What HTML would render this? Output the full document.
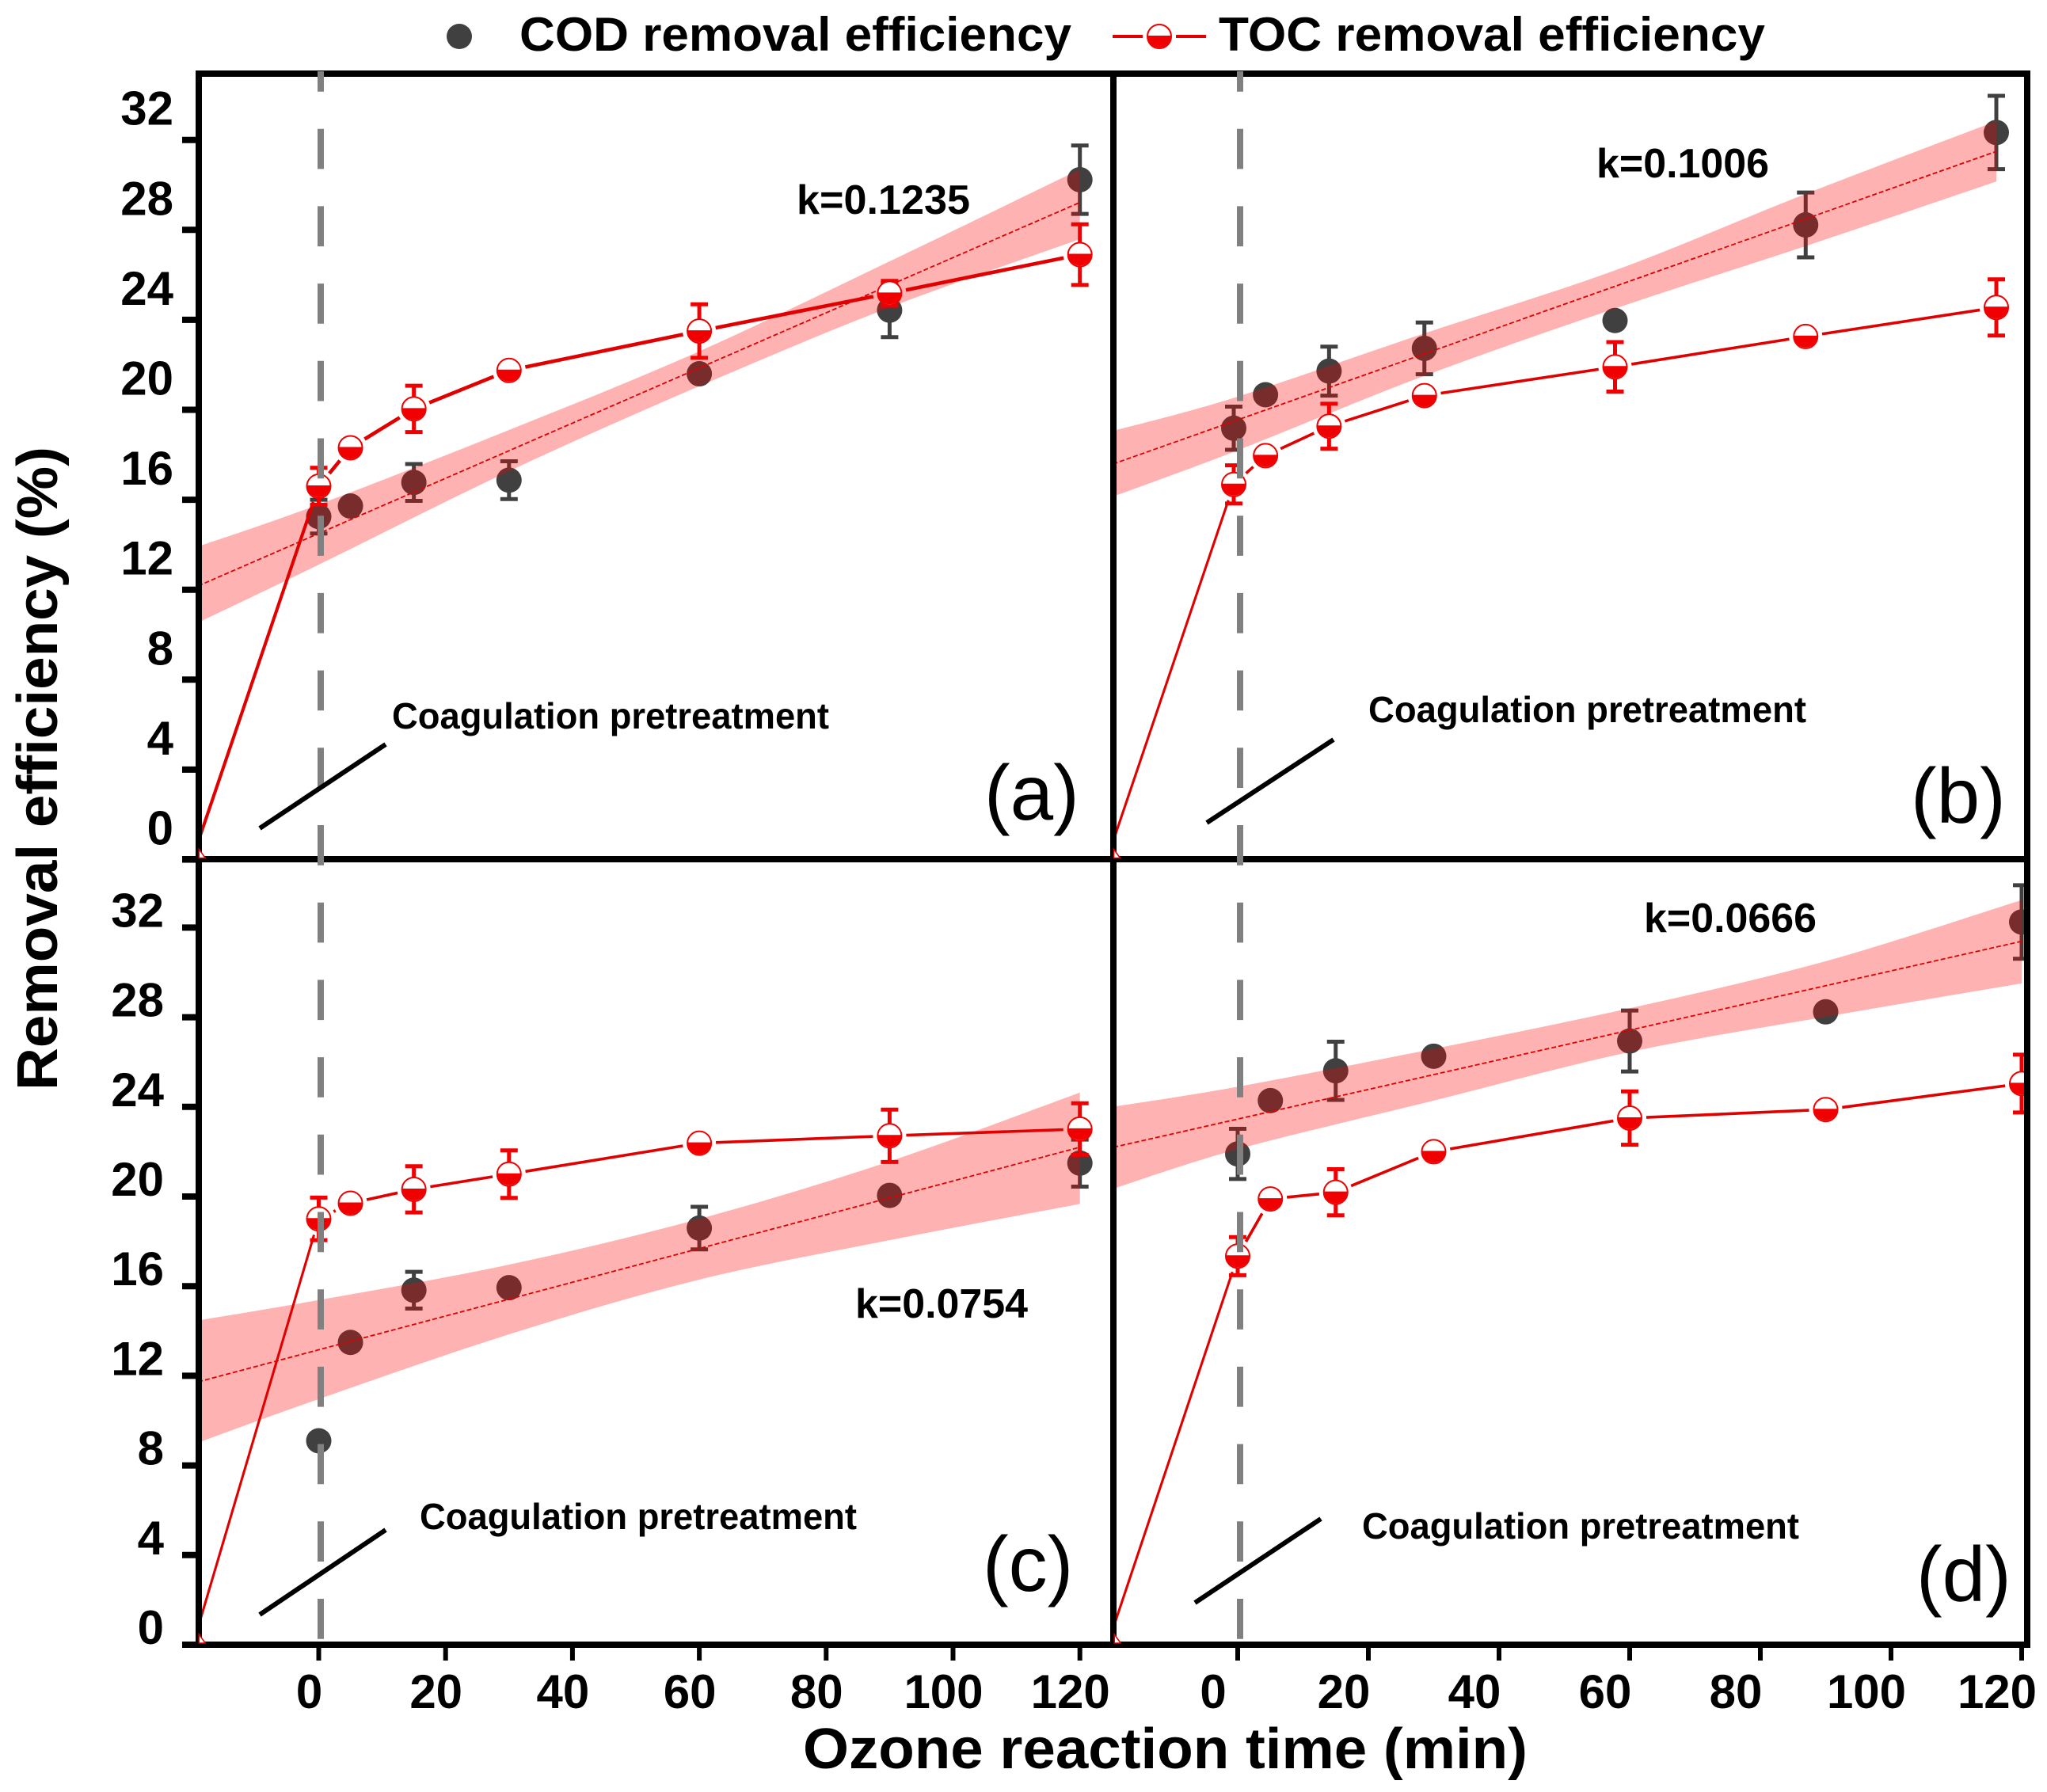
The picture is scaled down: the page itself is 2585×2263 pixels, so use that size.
<!DOCTYPE html>
<html lang="en">
<head>
<meta charset="utf-8">
<title>Removal efficiency vs ozone reaction time</title>
<style>
  html, body { margin: 0; padding: 0; background: #fff; }
  svg { display: block; font-family: "Liberation Sans", sans-serif; }
  .bold { font-weight: 700; fill: #000; }
</style>
</head>
<body>
<svg id="chart" xmlns="http://www.w3.org/2000/svg" width="2585" height="2263" viewBox="0 0 2585 2263">
  <rect x="0" y="0" width="2585" height="2263" fill="#fff"/>
  <defs>
    <clipPath id="clip-a"><rect x="251" y="93" width="1155" height="992"/></clipPath>
    <clipPath id="clip-b"><rect x="1406" y="93" width="1154" height="992"/></clipPath>
    <clipPath id="clip-c"><rect x="251" y="1085" width="1155" height="992"/></clipPath>
    <clipPath id="clip-d"><rect x="1406" y="1085" width="1154" height="992"/></clipPath>
  </defs>

  <g id="marks"></g>

  <g stroke="#000" stroke-width="8" fill="none">
    <line x1="251" y1="89" x2="251" y2="2081"/>
    <line x1="247" y1="93" x2="2564" y2="93"/>
    <line x1="1406" y1="89" x2="1406" y2="2081"/>
    <line x1="230" y1="1085" x2="2564" y2="1085"/>
    <line x1="230" y1="2077" x2="2564" y2="2077"/>
    <line x1="2560" y1="89" x2="2560" y2="2081"/>
  </g>

  <g id="axes"></g>
  <g id="overlay"></g>

  <g stroke="#808080" stroke-width="8" stroke-dasharray="50.7 47" stroke-dashoffset="25" fill="none">
    <line x1="405" y1="90" x2="405" y2="2072"/>
    <line x1="1566" y1="90" x2="1566" y2="2072"/>
  </g>

  <g stroke="#000" stroke-width="6" fill="none">
    <line x1="328" y1="1046" x2="487" y2="940"/>
    <line x1="1524" y1="1039" x2="1684" y2="934"/>
    <line x1="328" y1="2039" x2="487" y2="1932"/>
    <line x1="1509" y1="2024" x2="1668" y2="1918"/>
  </g>

  <g class="bold" font-size="46">
    <text x="495" y="920" textLength="552" lengthAdjust="spacingAndGlyphs">Coagulation pretreatment</text>
    <text x="1728" y="912" textLength="553" lengthAdjust="spacingAndGlyphs">Coagulation pretreatment</text>
    <text x="530" y="1931" textLength="552" lengthAdjust="spacingAndGlyphs">Coagulation pretreatment</text>
    <text x="1720" y="1943" textLength="552" lengthAdjust="spacingAndGlyphs">Coagulation pretreatment</text>
  </g>

  <g class="bold" font-size="52">
    <text x="1006" y="270" textLength="219" lengthAdjust="spacingAndGlyphs">k=0.1235</text>
    <text x="2016" y="224" textLength="218" lengthAdjust="spacingAndGlyphs">k=0.1006</text>
    <text x="1080" y="1664" textLength="218" lengthAdjust="spacingAndGlyphs">k=0.0754</text>
    <text x="2076" y="1177" textLength="218" lengthAdjust="spacingAndGlyphs">k=0.0666</text>
  </g>

  <g font-size="98" fill="#000">
    <text x="1243" y="1035">(a)</text>
    <text x="2413" y="1039">(b)</text>
    <text x="1241" y="2009">(c)</text>
    <text x="2420" y="2022">(d)</text>
  </g>

  <text class="bold" font-size="72" x="1014" y="2233" textLength="915" lengthAdjust="spacingAndGlyphs">Ozone reaction time (min)</text>
  <text class="bold" font-size="72" transform="translate(72 1377) rotate(-90)" x="0" y="0" textLength="813" lengthAdjust="spacingAndGlyphs">Removal efficiency (%)</text>

  <g>
    <g>
      <circle cx="580" cy="46" r="16" fill="#404040"/>
      <text class="bold" font-size="60" x="656" y="64" textLength="697" lengthAdjust="spacingAndGlyphs">COD removal efficiency</text>
    </g>
    <g>
      <line x1="1405" y1="46" x2="1443" y2="46" stroke="#e00000" stroke-width="4"/>
      <line x1="1485" y1="46" x2="1523" y2="46" stroke="#e00000" stroke-width="4"/>
      <circle cx="1464" cy="46" r="15" fill="#fff" stroke="#f00000" stroke-width="2"/>
      <path d="M1449 45 A15 15 0 0 0 1479 45 Z" fill="#f00000"/>
      <text class="bold" font-size="60" x="1539" y="64" textLength="690" lengthAdjust="spacingAndGlyphs">TOC removal efficiency</text>
    </g>
  </g>
</svg>

<script>
// ---- shared categories ----
const times = [0, 5, 15, 30, 60, 90, 120];
const yTickValues = [0, 4, 8, 12, 16, 20, 24, 28, 32];
const xTickValues = [0, 20, 40, 60, 80, 100, 120];
const bandTimes = [-19, 0, 30, 60, 90, 120];
const fitTimes = [-19, 120];
const tocStart = [-19, 0.8];

// ---- panel (a) ----
const codA = [15.25, 15.72, 16.77, 16.87, 21.6, 24.43, 30.23];
const codErrA = [0.75, 0, 0.82, 0.84, 0, 1.2, 1.52];
const tocA = [16.6, 18.31, 20.04, 21.75, 23.5, 25.18, 26.9];
const tocErrA = [0.82, 0, 1.03, 0, 1.19, 0.55, 1.35];
const bandUpperA = [13.92, 15.79, 19.1, 22.6, 26.6, 30.69];
const bandLowerA = [10.54, 13.11, 17.27, 21.05, 24.55, 27.59];
const fitA = [12.17, 29.22];

// ---- panel (b) ----
const codB = [19.18, 20.67, 21.72, 22.73, 23.97, 28.22, 32.33];
const codErrB = [0.96, 0, 1.09, 1.15, 0, 1.44, 1.63];
const tocB = [16.68, 17.96, 19.27, 20.63, 21.91, 23.26, 24.55];
const tocErrB = [0.85, 0, 1.0, 0, 1.1, 0, 1.25];
const bandUpperB = [19.06, 20.53, 23.4, 26.2, 29.6, 32.84];
const bandLowerB = [16.14, 18.13, 21.51, 24.5, 27.28, 30.15];
const fitB = [17.59, 31.49];

// ---- panel (c) ----
const codC = [9.1, 13.49, 15.82, 15.93, 18.59, 20.05, 21.49];
const codErrC = [0, 0, 0.82, 0, 0.95, 0, 1.05];
const tocC = [19.0, 19.7, 20.32, 21.0, 22.38, 22.71, 23.01];
const tocErrC = [0.95, 0, 1.03, 1.06, 0, 1.17, 1.15];
const bandUpperC = [14.47, 15.38, 16.96, 19.0, 21.57, 24.64];
const bandLowerC = [9.02, 10.96, 13.85, 16.29, 18.05, 19.67];
const fitC = [11.73, 22.2];

// ---- panel (d) ----
const codD = [21.9, 24.28, 25.61, 26.26, 26.94, 28.24, 32.25];
const codErrD = [1.12, 0, 1.3, 0, 1.36, 0, 1.64];
const tocD = [17.34, 19.89, 20.19, 22.0, 23.5, 23.88, 25.04];
const tocErrD = [0.85, 0, 1.03, 0, 1.19, 0, 1.29];
const bandUpperD = [24.01, 24.9, 26.59, 28.4, 30.5, 33.23];
const bandLowerD = [20.35, 22.11, 24.28, 26.45, 28.02, 29.51];
const fitD = [22.2, 31.39];

// ---- axis functions ----
function xLeftColumn(t) { return 402.5 + 8.01 * t; }
function xPanelB(t) { return 1558 + 8.025 * t; }
function xPanelD(t) { return 1563 + 8.25 * t; }
function yTopRow(v) { return 1085.5 - 28.4 * v; }
function yBottomRow(v) { return 2077 - 28.3 * v; }

const SVG_NS = 'http://www.w3.org/2000/svg';
const marksLayer = document.getElementById('marks');
const axesLayer = document.getElementById('axes');
const overlayLayer = document.getElementById('overlay');

function make(tag, parent, attrs) {
  const el = document.createElementNS(SVG_NS, tag);
  for (const key in attrs) el.setAttribute(key, attrs[key]);
  parent.appendChild(el);
  return el;
}

// smooth curve through screen points (Catmull-Rom), returned as path commands
function smoothSegments(pts) {
  let d = '';
  for (let i = 0; i < pts.length - 1; i++) {
    const p0 = pts[Math.max(0, i - 1)];
    const p1 = pts[i];
    const p2 = pts[i + 1];
    const p3 = pts[Math.min(pts.length - 1, i + 2)];
    const c1x = p1[0] + (p2[0] - p0[0]) / 6;
    const c1y = p1[1] + (p2[1] - p0[1]) / 6;
    const c2x = p2[0] - (p3[0] - p1[0]) / 6;
    const c2y = p2[1] - (p3[1] - p1[1]) / 6;
    d += ' C' + c1x + ' ' + c1y + ' ' + c2x + ' ' + c2y + ' ' + p2[0] + ' ' + p2[1];
  }
  return d;
}

function drawErrorBar(parent, cx, yFn, value, err, color, width) {
  if (!err) return;
  const top = yFn(value + err);
  const bottom = yFn(value - err);
  const stem = make('line', parent, { x1: cx, y1: top, x2: cx, y2: bottom, stroke: color, 'stroke-width': width });
  
  
  const capTop = make('line', parent, { x1: cx - 11, y1: top, x2: cx + 11, y2: top, stroke: color, 'stroke-width': 5 });
  
  
  const capBottom = make('line', parent, { x1: cx - 11, y1: bottom, x2: cx + 11, y2: bottom, stroke: color, 'stroke-width': 5 });
  
  
}

function drawPanel(id, xFn, yFn, cod, codErr, toc, tocErr, upper, lower, fit, lineWidth) {
  const group = make('g', marksLayer, { 'clip-path': 'url(#clip-' + id + ')' });
  
  

  // COD points sit underneath the translucent confidence band
  times.forEach(function (t, i) {
    drawErrorBar(group, xFn(t), yFn, cod[i], codErr[i], '#404040', 5);
    const dot = make('circle', group, { cx: xFn(t), cy: yFn(cod[i]), r: 16, fill: '#404040' });
    
    
  });

  const upperPts = bandTimes.map(function (t, i) { return [xFn(t), yFn(upper[i])]; });
  const lowerPts = bandTimes.map(function (t, i) { return [xFn(t), yFn(lower[i])]; }).reverse();
  const bandPath = 'M' + upperPts[0][0] + ' ' + upperPts[0][1] + smoothSegments(upperPts) +
    ' L' + lowerPts[0][0] + ' ' + lowerPts[0][1] + smoothSegments(lowerPts) + ' Z';
  const band = make('path', group, { d: bandPath, fill: '#ff0000', 'fill-opacity': 0.3 });
  
  

  const fitLine = make('line', group, {
    x1: xFn(fitTimes[0]), y1: yFn(fit[0]), x2: xFn(fitTimes[1]), y2: yFn(fit[1]),
    stroke: '#e00000', 'stroke-width': 1.8, 'stroke-dasharray': '6 3'
  });
  
  

  // TOC connecting line, with a small gap around each marker
  const gap = 21;
  const pts = [[xFn(tocStart[0]), yFn(tocStart[1])]].concat(times.map(function (t, i) { return [xFn(t), yFn(toc[i])]; }));
  for (let i = 0; i < pts.length - 1; i++) {
    const a = pts[i];
    const b = pts[i + 1];
    const dx = b[0] - a[0];
    const dy = b[1] - a[1];
    const len = Math.sqrt(dx * dx + dy * dy);
    const startGap = i === 0 ? 0 : gap;
    const seg = make('line', group, {
      x1: a[0] + dx * startGap / len, y1: a[1] + dy * startGap / len,
      x2: b[0] - dx * gap / len, y2: b[1] - dy * gap / len,
      stroke: '#e00000', 'stroke-width': i === 0 ? lineWidth - 0.5 : lineWidth
    });
    
    
  }

  times.forEach(function (t, i) {
    const cx = xFn(t);
    const cy = yFn(toc[i]);
    drawErrorBar(group, cx, yFn, toc[i], tocErr[i], '#f00000', 5);
    const ring = make('circle', group, { cx: cx, cy: cy, r: 15, fill: '#fff', stroke: '#f00000', 'stroke-width': 2 });
    
    
    const half = make('path', group, { d: 'M' + (cx - 15) + ' ' + (cy - 1) + ' A15 15 0 0 0 ' + (cx + 15) + ' ' + (cy - 1) + ' Z', fill: '#f00000' });
    
    
  });

  // small origin marker in the corner of the panel
  const ax = xFn(tocStart[0]) + 1;
  const ay = yFn(0);
  const corner = make('polygon', overlayLayer, {
    points: ax + ',' + (ay - 13) + ' ' + (ax + 8) + ',' + (ay - 2) + ' ' + ax + ',' + (ay - 2),
    fill: '#fff', stroke: '#e00000', 'stroke-width': 1.5
  });
  
  
}

function drawYAxis(yFn, labelRight, baselineShift, name) {
  yTickValues.forEach(function (v) {
    const tick = make('line', axesLayer, { x1: 230, y1: yFn(v), x2: 251, y2: yFn(v), stroke: '#000', 'stroke-width': 8 });
    
    
    const label = make('text', axesLayer, {
      x: labelRight, y: yFn(v) + baselineShift, 'text-anchor': 'end', 'font-size': 60, 'font-weight': 700, fill: '#000'
    });
    label.textContent = String(v);
    
    
  });
}

function drawXAxis(xFn, labelShift, name) {
  xTickValues.forEach(function (v) {
    const tick = make('line', axesLayer, { x1: xFn(v), y1: 2077, x2: xFn(v), y2: 2097, stroke: '#000', 'stroke-width': 6 });
    
    
    const label = make('text', axesLayer, {
      x: xFn(v) + labelShift, y: 2157, 'text-anchor': 'middle', 'font-size': 60, 'font-weight': 700, fill: '#000'
    });
    label.textContent = String(v);
    
    
  });
}

drawPanel('a', xLeftColumn, yTopRow, codA, codErrA, tocA, tocErrA, bandUpperA, bandLowerA, fitA, 4.6);
drawPanel('b', xPanelB, yTopRow, codB, codErrB, tocB, tocErrB, bandUpperB, bandLowerB, fitB, 3.6);
drawPanel('c', xLeftColumn, yBottomRow, codC, codErrC, tocC, tocErrC, bandUpperC, bandLowerC, fitC, 3.6);
drawPanel('d', xPanelD, yBottomRow, codD, codErrD, tocD, tocErrD, bandUpperD, bandLowerD, fitD, 3.6);

drawYAxis(yTopRow, 219, -19, 'y-axis-top');
drawYAxis(yBottomRow, 207, -1, 'y-axis-bottom');
drawXAxis(xLeftColumn, -12, 'x-axis-left');
drawXAxis(xPanelD, -31, 'x-axis-right');
</script>
</body>
</html>
